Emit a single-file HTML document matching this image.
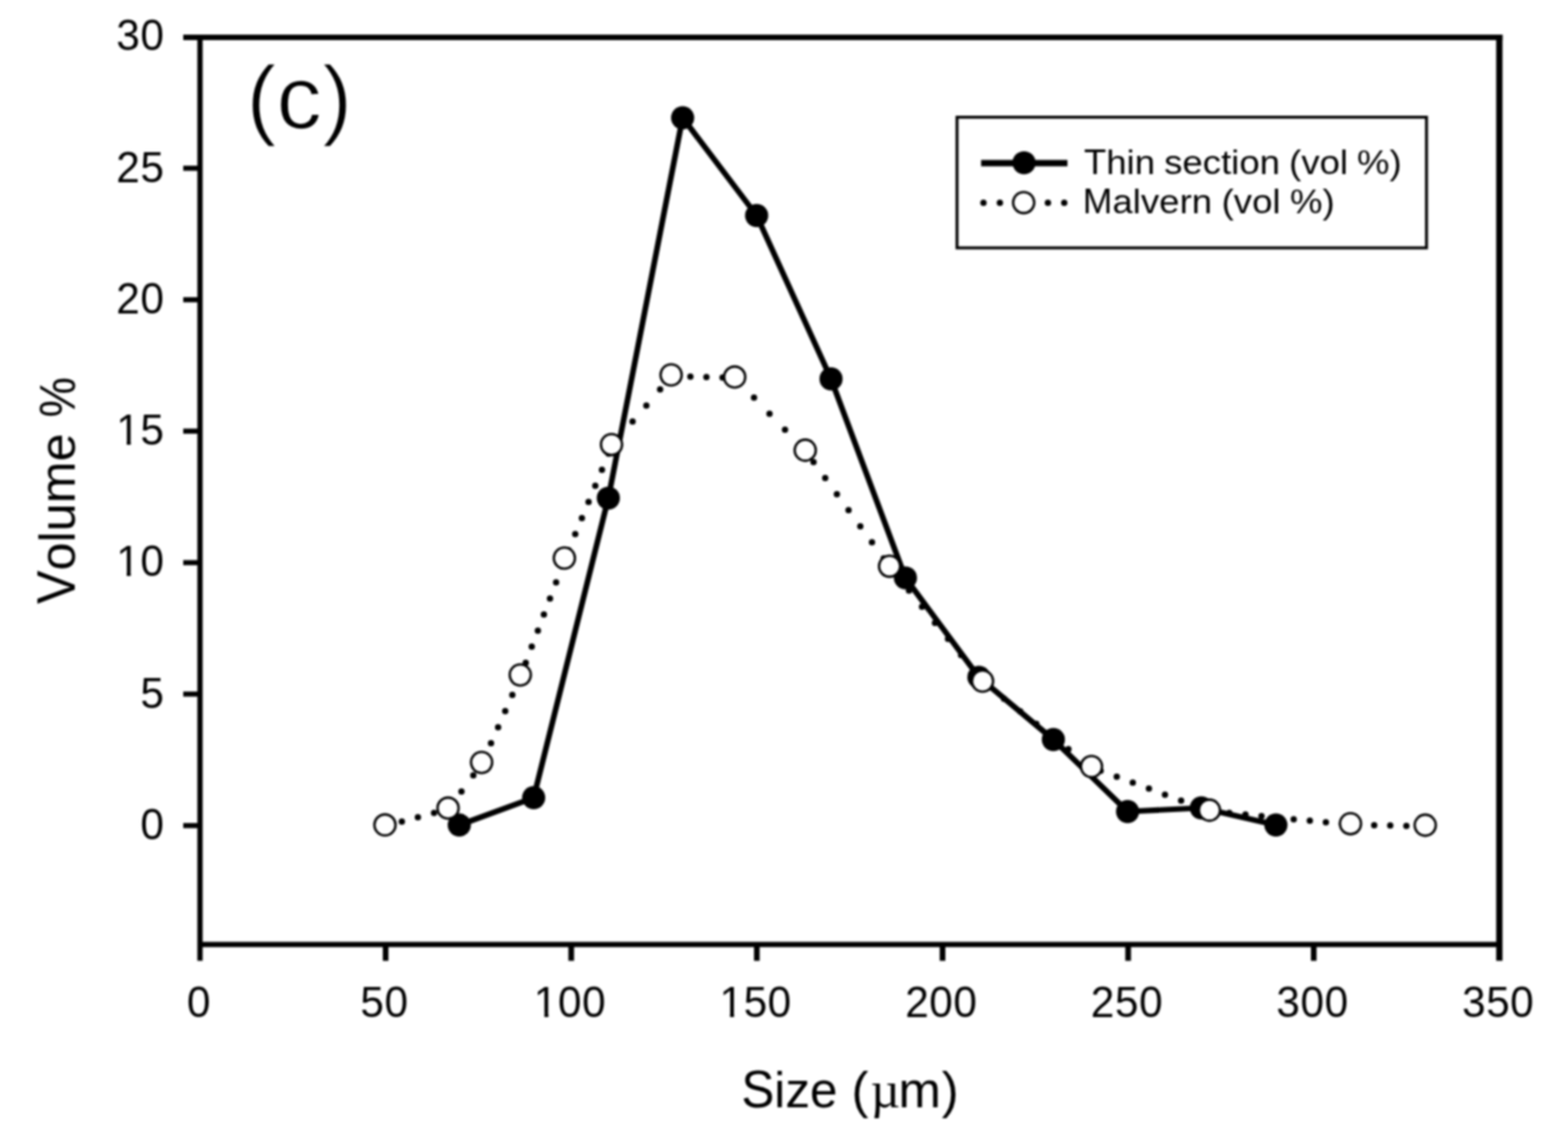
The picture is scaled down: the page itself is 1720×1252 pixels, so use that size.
<!DOCTYPE html>
<html lang="en"><head><meta charset="utf-8"><title>Size distribution (c)</title>
<style>
html,body{margin:0;padding:0;background:#fff;}
body{width:1720px;height:1252px;overflow:hidden;}
svg{display:block;filter:blur(0.90px);}
text{font-family:"Liberation Sans",sans-serif;fill:#000;}
.mu{font-family:"Liberation Serif",serif;}
</style></head><body>
<svg width="1720" height="1252" viewBox="0 0 1720 1252">
<rect x="0" y="0" width="1720" height="1252" fill="#fff"/>
<g stroke="#000" fill="none" stroke-linecap="butt">
<line x1="219.4" y1="37.9" x2="219.4" y2="1054.3" stroke-width="5.8"/>
<line x1="1644.7" y1="37.9" x2="1644.7" y2="1054.3" stroke-width="6.9"/>
<line x1="201.0" y1="41.0" x2="1648.2" y2="41.0" stroke-width="6.2"/>
<line x1="219.4" y1="1036.3" x2="1644.7" y2="1036.3" stroke-width="5.8"/>
<line x1="201.0" y1="184.6" x2="219.4" y2="184.6" stroke-width="5.6"/>
<line x1="201.0" y1="328.9" x2="219.4" y2="328.9" stroke-width="5.6"/>
<line x1="201.0" y1="473.1" x2="219.4" y2="473.1" stroke-width="5.6"/>
<line x1="201.0" y1="617.4" x2="219.4" y2="617.4" stroke-width="5.6"/>
<line x1="201.0" y1="761.6" x2="219.4" y2="761.6" stroke-width="5.6"/>
<line x1="201.0" y1="905.9" x2="219.4" y2="905.9" stroke-width="5.6"/>
<line x1="423.0" y1="1036.3" x2="423.0" y2="1054.3" stroke-width="6.2"/>
<line x1="626.6" y1="1036.3" x2="626.6" y2="1054.3" stroke-width="6.2"/>
<line x1="830.2" y1="1036.3" x2="830.2" y2="1054.3" stroke-width="6.2"/>
<line x1="1033.9" y1="1036.3" x2="1033.9" y2="1054.3" stroke-width="6.2"/>
<line x1="1237.5" y1="1036.3" x2="1237.5" y2="1054.3" stroke-width="6.2"/>
<line x1="1441.1" y1="1036.3" x2="1441.1" y2="1054.3" stroke-width="6.2"/>
</g>
<g font-size="46.5" letter-spacing="0.6">
<text transform="translate(180.4 55.4) scale(1 1.030)" text-anchor="end">30</text>
<text transform="translate(180.4 199.6) scale(1 1.030)" text-anchor="end">25</text>
<text transform="translate(180.4 343.9) scale(1 1.030)" text-anchor="end">20</text>
<text transform="translate(180.4 488.1) scale(1 1.030)" text-anchor="end">15</text>
<path d="M129.98 483.57H139.02V489.65H129.98ZM143.43 483.57H152.11V489.65H143.43Z" fill="#fff"/>
<text transform="translate(180.4 632.4) scale(1 1.030)" text-anchor="end">10</text>
<path d="M129.98 627.82H139.02V633.90H129.98ZM143.43 627.82H152.11V633.90H143.43Z" fill="#fff"/>
<text transform="translate(180.4 776.6) scale(1 1.030)" text-anchor="end">5</text>
<text transform="translate(180.4 920.9) scale(1 1.030)" text-anchor="end">0</text>
<text transform="translate(218.1 1115.9) scale(1 1.030)" text-anchor="middle">0</text>
<text transform="translate(421.7 1115.9) scale(1 1.030)" text-anchor="middle">50</text>
<text transform="translate(625.3 1115.9) scale(1 1.030)" text-anchor="middle">100</text>
<path d="M588.13 1111.32H597.18V1117.40H588.13ZM601.59 1111.32H610.27V1117.40H601.59Z" fill="#fff"/>
<text transform="translate(828.9 1115.9) scale(1 1.030)" text-anchor="middle">150</text>
<path d="M791.75 1111.32H800.79V1117.40H791.75ZM805.20 1111.32H813.89V1117.40H805.20Z" fill="#fff"/>
<text transform="translate(1032.6 1115.9) scale(1 1.030)" text-anchor="middle">200</text>
<text transform="translate(1236.2 1115.9) scale(1 1.030)" text-anchor="middle">250</text>
<text transform="translate(1439.8 1115.9) scale(1 1.030)" text-anchor="middle">300</text>
<text transform="translate(1643.4 1115.9) scale(1 1.030)" text-anchor="middle">350</text>
</g>
<text font-size="56" text-anchor="middle" transform="translate(81.9 538.3) rotate(-90) scale(0.987 1)"><tspan font-size="58.9" textLength="37.35" lengthAdjust="spacingAndGlyphs">V</tspan>olume <tspan dx="2.2" textLength="44.81" lengthAdjust="spacingAndGlyphs">%</tspan></text>
<text font-size="56" x="813.2" y="1215.0"><tspan font-size="57.7" textLength="36.16" lengthAdjust="spacingAndGlyphs">S</tspan><tspan textLength="69.30" lengthAdjust="spacingAndGlyphs">ize</tspan> <tspan x="933.9">(</tspan><tspan class="mu" x="954.9">µ</tspan><tspan x="985.6">m</tspan><tspan x="1033.1">)</tspan></text>
<text font-size="99.6" stroke="#fff" stroke-width="1.5" stroke-linejoin="round" transform="translate(270.2 141.4) scale(1 0.985)">(c)</text>
<polyline points="503.8,905.3 585.4,875.3 667.3,546.6 748.8,129.2 830.0,236.5 911.6,415.8 993.2,634.1 1073.8,743.1 1155.5,811.5 1236.9,890.5 1317.8,886.5 1399.6,905.2" fill="none" stroke="#000" stroke-width="6.2" stroke-linejoin="round"/>
<g fill="#000">
<circle cx="503.8" cy="905.3" r="12.7"/>
<circle cx="585.4" cy="875.3" r="12.7"/>
<circle cx="667.3" cy="546.6" r="12.7"/>
<circle cx="748.8" cy="129.2" r="12.7"/>
<circle cx="830.0" cy="236.5" r="12.7"/>
<circle cx="911.6" cy="415.8" r="12.7"/>
<circle cx="993.2" cy="634.1" r="12.7"/>
<circle cx="1073.8" cy="743.1" r="12.7"/>
<circle cx="1155.5" cy="811.5" r="12.7"/>
<circle cx="1236.9" cy="890.5" r="12.7"/>
<circle cx="1317.8" cy="886.5" r="12.7"/>
<circle cx="1399.6" cy="905.2" r="12.7"/>
</g>
<path d="M423.1 906.2h0.01M440.8 901.5h0.01M458.4 896.8h0.01M476.1 892.1h0.01M493.2 886.1h0.01M506.2 868.5h0.01M519.2 850.8h0.01M530.8 833.2h0.01M538.6 815.5h0.01M546.4 797.9h0.01M554.2 780.2h0.01M562.0 762.6h0.01M569.8 744.9h0.01M576.7 727.3h0.01M583.3 709.6h0.01M590.0 692.0h0.01M596.6 674.3h0.01M603.3 656.7h0.01M610.0 639.0h0.01M616.6 621.4h0.01M623.7 603.7h0.01M631.0 586.1h0.01M638.3 568.4h0.01M645.6 550.8h0.01M653.0 533.1h0.01M660.3 515.5h0.01M667.6 497.8h0.01M678.8 480.2h0.01M693.9 462.5h0.01M709.0 444.9h0.01M724.1 427.2h0.01M739.6 412.6h0.01M757.3 413.2h0.01M774.9 413.8h0.01M792.6 414.3h0.01M810.1 418.7h0.01M827.1 436.3h0.01M844.1 453.9h0.01M861.1 471.6h0.01M878.2 489.2h0.01M892.4 506.9h0.01M905.2 524.5h0.01M918.0 542.2h0.01M930.8 559.8h0.01M943.7 577.5h0.01M956.5 595.1h0.01M969.3 612.8h0.01M982.8 630.4h0.01M997.1 648.1h0.01M1011.4 665.7h0.01M1025.6 683.4h0.01M1039.9 701.0h0.01M1054.2 718.7h0.01M1068.5 736.3h0.01M1083.8 752.8h0.01M1101.4 766.7h0.01M1119.1 780.5h0.01M1136.8 794.3h0.01M1154.4 808.2h0.01M1172.0 822.0h0.01M1189.7 835.8h0.01M1207.3 845.7h0.01M1225.0 852.3h0.01M1242.6 858.8h0.01M1260.3 865.3h0.01M1277.9 871.9h0.01M1295.6 878.4h0.01M1313.2 884.9h0.01M1330.9 890.5h0.01M1348.5 892.1h0.01M1366.2 893.8h0.01M1383.8 895.5h0.01M1401.5 897.2h0.01M1419.1 898.9h0.01M1436.8 900.6h0.01M1454.4 902.3h0.01M1472.1 904.0h0.01M1489.7 905.1h0.01M1507.4 905.4h0.01M1525.0 905.8h0.01M1542.7 906.2h0.01M1560.3 906.5h0.01" fill="none" stroke="#000" stroke-width="7.0" stroke-linecap="round"/>
<g fill="#fff" stroke="#000" stroke-width="2.6">
<circle cx="422.3" cy="905.2" r="11.6"/>
<circle cx="491.5" cy="886.7" r="11.6"/>
<circle cx="528.3" cy="836.6" r="11.6"/>
<circle cx="570.7" cy="740.6" r="11.6"/>
<circle cx="619.1" cy="612.4" r="11.6"/>
<circle cx="670.8" cy="487.8" r="11.6"/>
<circle cx="736.2" cy="411.4" r="11.6"/>
<circle cx="805.9" cy="413.7" r="11.6"/>
<circle cx="883.3" cy="494.0" r="11.6"/>
<circle cx="975.8" cy="621.3" r="11.6"/>
<circle cx="1077.8" cy="747.4" r="11.6"/>
<circle cx="1197.3" cy="841.1" r="11.6"/>
<circle cx="1326.7" cy="889.0" r="11.6"/>
<circle cx="1481.4" cy="903.8" r="11.6"/>
<circle cx="1563.4" cy="905.5" r="11.6"/>
</g>
<rect x="1049.8" y="128.6" width="515.0" height="143.4" fill="#fff" stroke="#000" stroke-width="3.2"/>
<line x1="1076.2" y1="178.9" x2="1170.9" y2="178.9" stroke="#000" stroke-width="7"/>
<circle cx="1123.3" cy="178.6" r="12.7" fill="#000"/>
<path d="M1078.8 222.6h0.01M1096.8 222.6h0.01M1149.5 222.6h0.01M1167.4 222.6h0.01" fill="none" stroke="#000" stroke-width="7.0" stroke-linecap="round"/>
<circle cx="1122.9" cy="222.3" r="11.6" fill="#fff" stroke="#000" stroke-width="2.6"/>
<text font-size="40" word-spacing="-1.3" transform="translate(1189.0 191.0) scale(1.004 0.94)"><tspan font-size="42.1" textLength="24.43" lengthAdjust="spacingAndGlyphs">T</tspan>hin section (vol %)</text>
<text font-size="40" word-spacing="-0.8" transform="translate(1187.8 234.4) scale(1.004 0.94)"><tspan font-size="42.1" textLength="32.32" lengthAdjust="spacingAndGlyphs">M</tspan>alvern (vol %)</text>
</svg>
</body></html>
